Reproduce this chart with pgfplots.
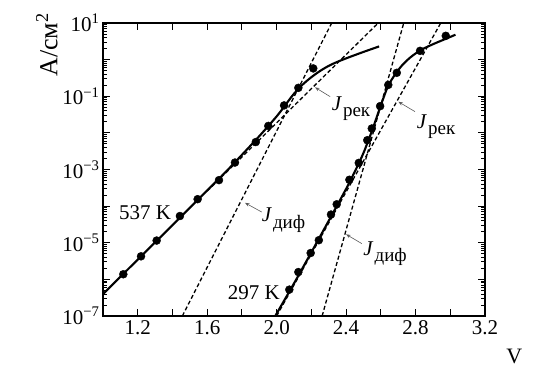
\documentclass[border=0pt]{standalone}
\usepackage{fontspec}
\setmainfont{Liberation Serif}
\usepackage{pgfplots}
\pgfplotsset{compat=1.18}
\usepackage{pgfplotstable}
\usetikzlibrary{arrows.meta}

\pgfplotstableread{
x ly
1.117 -5.86
1.219 -5.37
1.309 -4.94
1.443 -4.27
1.545 -3.81
1.668 -3.29
1.760 -2.81
1.880 -2.25
1.952 -1.81
2.043 -1.25
2.125 -0.77
2.211 -0.24
}\ptsA

\pgfplotstableread{
x ly
2.073 -6.28
2.125 -5.80
2.196 -5.28
2.243 -4.93
2.313 -4.23
2.346 -3.95
2.419 -3.28
2.473 -2.82
2.522 -2.20
2.548 -1.88
2.596 -1.27
2.643 -0.69
2.692 -0.36
2.826 0.24
2.974 0.65
}\ptsB

\pgfplotstableread{
x ly
1.0 -6.40
1.2 -5.46
1.4 -4.52
1.6 -3.57
1.7 -3.10
1.8 -2.60
1.9 -2.09
2.0 -1.55
2.05 -1.24
2.1 -0.93
2.15 -0.68
2.2 -0.48
2.25 -0.31
2.3 -0.17
2.35 -0.06
2.42 0.07
2.5 0.21
2.59 0.36
}\lineA

\pgfplotstableread{
x ly
1.992 -7.0
2.1 -6.11
2.2 -5.26
2.3 -4.40
2.4 -3.53
2.45 -3.06
2.5 -2.55
2.55 -1.93
2.6 -1.25
2.64 -0.74
2.68 -0.42
2.72 -0.17
2.77 0.06
2.83 0.26
2.9 0.42
2.97 0.56
3.03 0.68
}\lineB

\pgfplotstableread{
x ly
1.457 -7.0
2.317 1.0
}\difA

\pgfplotstableread{
x ly
1.6 -3.59
2.585 1.0
}\rekA

\pgfplotstableread{
x ly
2.262 -7.0
2.732 1.0
}\difB

\pgfplotstableread{
x ly
2.0 -7.0
2.945 1.0
}\rekB

\newcommand{\Jlab}[1]{{\fontsize{21}{24}\selectfont\textit{J}\kern1pt\raisebox{-6.5pt}{\fontsize{19}{20}\selectfont #1}}}

\begin{document}
\begin{tikzpicture}
\begin{axis}[
  name=ax,
  scale only axis,
  width=382pt, height=293pt,
  xmin=1.0, xmax=3.2,
  ymode=log, ymin=1e-7, ymax=10,
  xtick={1.0,1.2,1.4,1.6,1.8,2.0,2.2,2.4,2.6,2.8,3.0,3.2},
  xticklabels={,1.2,,1.6,,2.0,,2.4,,2.8,,3.2},
  ytick={1e-7,1e-6,1e-5,1e-4,1e-3,1e-2,1e-1,1,10},
  yticklabels={10\textsuperscript{−7},,10\textsuperscript{−5},,10\textsuperscript{−3},,10\textsuperscript{−1},,10\textsuperscript{1}},
  tick align=inside,
  major tick length=7pt,
  minor tick length=4pt,
  axis line style={line width=2pt},
  every tick/.style={black, line width=0.9pt},
  tick label style={font=\fontsize{21}{24}\selectfont},
  xticklabel style={yshift=-1pt},
  xlabel={V},
  xlabel style={at={(rel axis cs:1.077,-0.139)}, anchor=center, font=\fontsize{22}{24}\selectfont},
  ylabel={A/см\textsuperscript{2}},
  ylabel style={at={(rel axis cs:-0.147,0.925)}, anchor=center, font=\fontsize{26}{28}\selectfont},
]
\addplot[black, line width=1.3pt, dash pattern=on 4pt off 2.5pt] table[x=x, y expr=10^(\thisrow{ly})] {\difA};
\addplot[black, line width=1.3pt, dash pattern=on 4pt off 2.5pt] table[x=x, y expr=10^(\thisrow{ly})] {\rekA};
\addplot[black, line width=1.3pt, dash pattern=on 4pt off 2.5pt] table[x=x, y expr=10^(\thisrow{ly})] {\difB};
\addplot[black, line width=1.3pt, dash pattern=on 4pt off 2.5pt] table[x=x, y expr=10^(\thisrow{ly})] {\rekB};
\addplot[black, line width=2.1pt, smooth] table[x=x, y expr=10^(\thisrow{ly})] {\lineA};
\addplot[black, line width=2.1pt, smooth] table[x=x, y expr=10^(\thisrow{ly})] {\lineB};
\addplot[only marks, mark=*, mark size=4pt, black] table[x=x, y expr=10^(\thisrow{ly})] {\ptsA};
\addplot[only marks, mark=*, mark size=4pt, black] table[x=x, y expr=10^(\thisrow{ly})] {\ptsB};

\node[font=\fontsize{21}{24}\selectfont, fill=white, inner sep=1pt] at (axis cs:1.242,6.6e-5) {537 K};
\node[font=\fontsize{21}{24}\selectfont, fill=white, inner sep=1pt] at (axis cs:1.869,4.4e-7) {297 K};

\node[anchor=base west, inner sep=0pt] at (axis cs:2.317,0.042) {\Jlab{рек}};
\node[anchor=base west, inner sep=0pt] at (axis cs:2.807,0.0133) {\Jlab{рек}};
\node[anchor=base west, inner sep=0pt] at (axis cs:1.914,3.7e-5) {\Jlab{диф}};
\node[anchor=base west, inner sep=0pt] at (axis cs:2.499,4.6e-6) {\Jlab{диф}};

\draw[gray!70!black, line width=0.6pt, -{Stealth[length=4.5pt,width=3.5pt]}] (axis cs:2.308,0.0977) -- (axis cs:2.221,0.175);
\draw[gray!70!black, line width=0.6pt, -{Stealth[length=4.5pt,width=3.5pt]}] (axis cs:2.797,0.038) -- (axis cs:2.701,0.0708);
\draw[gray!70!black, line width=0.6pt, -{Stealth[length=4.5pt,width=3.5pt]}] (axis cs:1.914,6.9e-5) -- (axis cs:1.818,1.23e-4);
\draw[gray!70!black, line width=0.6pt, -{Stealth[length=4.5pt,width=3.5pt]}] (axis cs:2.490,9.5e-6) -- (axis cs:2.400,1.7e-5);
\end{axis}
\pgfresetboundingbox
\useasboundingbox ([xshift=-103pt,yshift=-58pt]ax.south west) rectangle ([xshift=66pt,yshift=23pt]ax.north east);
\end{tikzpicture}
\end{document}
